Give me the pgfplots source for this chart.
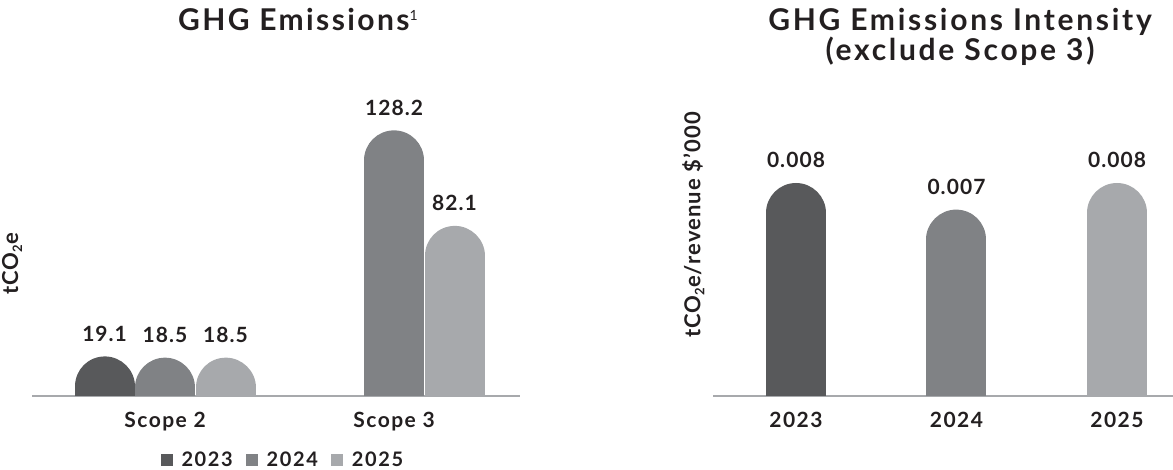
\documentclass[border=0pt]{standalone}
\usepackage{fontspec}
\setmainfont{Lato}[LetterSpace=5]
\usepackage{pgfplots}
\pgfplotsset{compat=1.18}
\definecolor{cA}{HTML}{58595B}
\definecolor{cB}{HTML}{808285}
\definecolor{cC}{HTML}{A7A9AC}
\definecolor{txt}{HTML}{231F20}
\pgfplotsset{
  pill/.style={ycomb, line width=60pt, line cap=round, mark=none, color=#1},
  base/.style={
    scale only axis, height=300pt,
    axis x line=bottom, axis y line=left,
    x axis line style={-, draw=cC, line width=2pt},
    y axis line style={draw=none},
    major tick length=0pt, ytick=\empty, scaled y ticks=false,
    xtick=data,
    xticklabel style={anchor=base, yshift=-32pt, inner sep=0pt,
      font=\fontsize{21}{25}\selectfont\bfseries\addfontfeature{LetterSpace=7}, text=txt},
    point meta=explicit symbolic,
    nodes near coords,
    every node near coord/.append style={anchor=base, yshift=45pt, inner sep=0pt,
      font=\fontsize{21}{25}\selectfont\bfseries, text=txt},
    ylabel style={anchor=center, inner sep=0pt, font=\fontsize{22}{25}\selectfont\bfseries, text=txt},
    title style={anchor=north, inner sep=0pt, align=center,
      font=\fontsize{30}{27}\selectfont\bfseries\addfontfeature{LetterSpace=9}, text=txt},
  },
}
\begin{document}
\begin{tikzpicture}[x=1pt,y=1pt]
\useasboundingbox (0,0) rectangle (1173,470);
\begin{axis}[base,
  at={(32pt,74pt)}, anchor=south west, width=488pt,
  xmin=-0.581, xmax=1.550, ymin=14.48, ymax=159.27,
  xtick={0,1}, xticklabels={Scope 2, Scope 3},
  title={\addfontfeature{LetterSpace=8}GHG Emissions\raisebox{10pt}{\fontsize{14}{14}\selectfont\mdseries 1}},
  title style={at={(axis description cs:0.545,1.273)}},
  ylabel={tCO\raisebox{-4pt}{\fontsize{13}{13}\selectfont 2}e},
  ylabel style={at={(axis description cs:-0.041,0.44)}},
  legend columns=3,
  legend style={at={(axis description cs:0.514,-0.2133)}, anchor=center,
    draw=none, fill=none, inner sep=0pt,
    font=\fontsize{20}{22}\selectfont\bfseries\addfontfeature{LetterSpace=8}, text=txt,
    /tikz/every odd column/.append style={column sep=7pt},
    /tikz/every even column/.append style={column sep=11pt}},
  legend image code/.code={\fill[#1, draw=none] (0pt,-6pt) rectangle (12pt,6pt);},
]
\addplot[pill=cA] coordinates {(-0.264,19.1) [19.1]};
\addplot[pill=cB] coordinates {(0,18.5) [18.5] (1,128.2) [128.2]};
\addplot[pill=cC] coordinates {(0.264,18.5) [18.5] (1.264,82.1) [82.1]};
\legend{2023,2024,2025}
\end{axis}
\begin{axis}[base,
  at={(713pt,74pt)}, anchor=south west, width=460pt,
  xmin=-0.517, xmax=2.349, ymin=0.0011268, ymax=0.0123944,
  xtick={0,1,2}, xticklabels={2023,2024,2025},
  title={GHG Emissions Intensity\\(exclude Scope 3)},
  title style={at={(axis description cs:0.537,1.273)}},
  ylabel={tCO\raisebox{-4pt}{\fontsize{13}{13}\selectfont 2}e/revenue \$’000},
  ylabel style={at={(axis description cs:-0.043,0.57)}},
]
\addplot[pill=cA] coordinates {(0,0.008) [0.008]};
\addplot[pill=cB] coordinates {(1,0.007) [0.007]};
\addplot[pill=cC] coordinates {(2,0.008) [0.008]};
\end{axis}
\end{tikzpicture}
\end{document}
